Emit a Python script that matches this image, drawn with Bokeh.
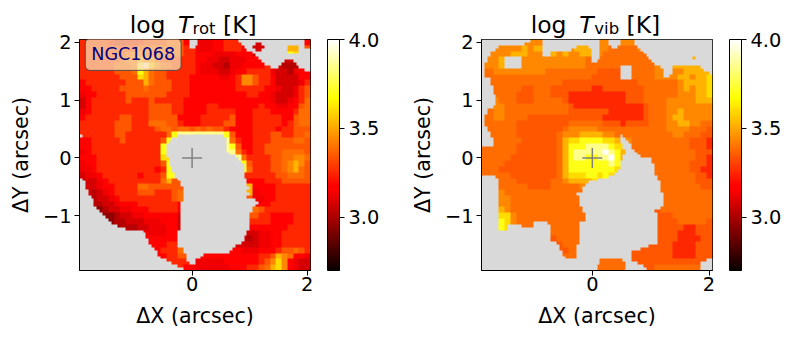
from bokeh.plotting import figure
from bokeh.layouts import row, column
from bokeh.models import LinearColorMapper, ColorBar, FixedTicker, Label, Range1d
from bokeh.core.properties import value
from bokeh.embed import file_html
from bokeh.resources import INLINE
import numpy as np

# value levels for the cell codes, log T [K]
codes = "0123456789abcde"
levels = [2.85, 2.95, 3.02, 3.08, 3.13, 3.18, 3.25, 3.34, 3.39, 3.44, 3.52, 3.60, 3.70, 3.85, 4.0]

t_rot_rows = [
"6666653344" + "566667775." + ".445566..." + ".........5",
"6666666666" + "777777776." + "4445566..." + "33...8aa87",
"6666666678" + "8777777766" + "5554444555" + "......cb..",
"6666666788" + "a997666666" + "5544334445" + "5.....33..",
"6666667778" + "deb9776666" + "5443324455" + "556.3222..",
"6666667778" + "ca87766666" + "5444334556" + "6664332455",
"6666666777" + "ba87766665" + "5555445699" + "7665333355",
"5666666677" + "7a87776665" + "5555555699" + "7665333346",
"5566666777" + "7877776665" + "5555555666" + "6655433467",
"4556666677" + "7777766665" + "5555555556" + "6554333467",
"3566666676" + "6676666655" + "5555555555" + "5554334568",
"3566666666" + "6677776655" + "5566555555" + "5655445578",
"4566666666" + "6677776655" + "5566666555" + "6665555688",
"5666666776" + "6677777555" + "5666667555" + "6666655788",
"6666667776" + "6688877655" + "5666677555" + "6666656788",
"6666667776" + "6667887887" + "8787765555" + "6666566777",
"6666667766" + "666668cddd" + "dddddc7555" + "6667766778",
"5566666766" + "66667c...." + ".....d8655" + "6667777887",
"5566666666" + "6666c....." + "......c755" + "6677777777",
"4566666666" + "6666c....." + "......d865" + "6677788887",
"5556666666" + "6666b....." + ".......d86" + "6667788998",
"4556666666" + "66667c...." + "........c7" + "6667789a97",
"4456666666" + "66656c...." + ".........8" + "6667789a87",
"3445666666" + "56667c...." + ".........6" + "6666778887",
".334566666" + "66668a7..." + ".........5" + "5566677777",
".334556666" + "88777777.." + ".........a" + "5555666666",
"..23456666" + "77766678.." + ".........a" + "4555666666",
"..23345666" + "66666678.." + ".........7" + "4455666666",
"...2334555" + "66666665.." + ".........." + ".556666666",
"...1233445" + "55666665.." + ".........." + "8766666666",
"....112334" + "45555553.." + ".........." + "7665555666",
".....12233" + "34445553.." + ".........." + "6665555666",
"......1222" + "33444553.." + ".........." + "5555556666",
".........." + ".4444554.." + ".........3" + "3445566666",
".........." + ".5555555.." + "........32" + "3445566666",
".........." + "..5556667." + ".......333" + "3445566666",
".........." + "...56668.." + "......5544" + "4555677876",
".........." + "....5667.." + ".555555555" + "5667a98554",
".........." + "......66.." + "4444455555" + "5679b95433",
".........." + "........55" + "4444445556" + "678ab95433",
]

t_vib_rows = [
"........99" + ".........." + "99..99...." + "..........",
"...9999a9a" + ".......aa." + "99888889.." + "..........",
"..999aaa99" + "..a9a99aa." + ".888888889" + "..........",
".99a...999" + "999999998." + ".888888888" + "......a...",
".99a...999" + "9999999988" + "8888..8888" + "9...aaaaa.",
".899999999" + "9888888888" + "7777..8888" + "99..9aaaa.",
".888888888" + "8888888887" + "7777..8888" + "9..9aa9aab",
"..88888888" + "8888777777" + "7777777888" + "88889aaaab",
"..88888778" + "8877777776" + "6777777788" + "88889a9aab",
"..88887778" + "8877766666" + "6666677788" + "8888999aab",
"..98887778" + "8888766666" + "6666677788" + "8899999aaa",
"..99888888" + "8888876666" + "6666666678" + "8899999999",
".899888888" + "8888877777" + "7766666678" + "8899a99999",
"8899888877" + "7777777777" + "7666666678" + "889aa99999",
"8888887777" + "7777788888" + "8777677778" + "8899aa9988",
".888887777" + "7777899999" + "8888888888" + "8899998887",
"..88887777" + "7778999aaa" + "a998888888" + "8889988877",
"..88888777" + "7778abbccc" + "cbba.98888" + "8888887776",
"..88887777" + "7778acccdd" + "ddcb.98888" + "8888887776",
"8888887777" + "7778acdddd" + "dedca.8888" + "8888888777",
"8888877777" + "7778acddcc" + "ddeca...88" + "8888888776",
"8888777777" + "7778accccc" + "ccdcb....." + "8888887776",
"8887777777" + "7778accccc" + "cccb......" + "8888887766",
"...8877777" + "7778abbbcc" + "bcb......." + "8888888776",
"...8887777" + "77889aaaab" + "a........." + ".888888777",
"...8888877" + "77888889.." + ".........." + ".888888877",
"...9888888" + "88888888.." + ".........." + ".888888888",
"...9988888" + "88888888.." + ".........." + ".888888888",
"...9988888" + "88888888.." + ".........." + ".888888888",
"...a988888" + "88888888.." + ".........." + "7888888888",
"...bb98888" + "88888888.." + ".........." + "7778888888",
"...cb98888" + "88888888.." + ".........." + "7777888887",
"...c......" + "..888888.." + ".........." + "7777766777",
".........." + "..888888.." + ".........." + "7777666777",
".........." + "..788888.." + ".........." + "7777666677",
".........." + "...78888.." + ".........7" + "7776666777",
".........." + "....7888.." + "......7777" + "7776666777",
".........." + "....8888.." + "......7777" + "7776666777",
".........." + ".........." + ".8888.7777" + "77777777..",
".........." + ".........." + ".88888...." + "88888888..",
]

# blanked columns of each of the 80 fine rows, top row first
blank_rot = [
"38-41,55-78", "38-41,56-61,63-78", "38-40,57-60,64-72,76-78", "58-61,63-72,76-80", "60-72,76-80",
"61-80", "62-80", "63-71,74-80", "64-70,75-80", "66-69,76-80", "78-80", "",
"", "", "", "", "", "", "", "", "", "", "", "", "", "", "", "", "", "", "", "", "",
"0-1,34-50", "32-51", "31-51", "30-51", "30-51", "30-51", "30-52", "30-54", "31-55", "31-56", "31-57",
"32-57", "32-57", "33-57", "33-57", "0-1,34-58", "0-2,35-58", "0-2,35-58", "0-2,36-59", "0-3,36-58",
"0-3,36-59", "0-4,36-58", "0-5,36-61", "0-5,35-62", "0-5,35-61", "0-6,35-60", "0-7,35-60", "0-8,35-59",
"0-9,35-59", "0-10,35-59", "0-11,35-59", "0-13,35-59", "0-16,35-59", "0-22,34-58", "0-23,34-58",
"0-23,34-57", "0-24,34-57", "0-24,34-56", "0-25,34-54", "0-26,36-53", "0-27,36-52", "0-27,37-43",
"0-28,37-42", "0-30,37-40", "0-32,38-40", "0-34", "0-36",
]

blank_vib = [
"0-17,21-41,44-48,53-80", "0-15,21-41,44-48,53-80", "0-6,21-33,37-41,45-47,54-80", "0-5,21-31,38-41,55-80",
"0-3,21-24,38-41,56-80", "0-3,21-24,38-41,57-80", "0-2,8-14,38-41,58-73,74-80", "0-2,8-14,38-40,59-80",
"0-1,8-14,60-80", "0-1,8-14,48-52,62-66,76-80", "0-1,48-52,63-66,77-80", "0-1,48-52,63-66,79-80",
"0-1,48-52,63-65", "0-3,48-52", "0-3", "0-3", "0-4", "0-4", "0-4", "0-5", "0-5", "0-5", "0-5", "0-4",
"0-2", "0-2", "0-1", "0-1", "0-1", "0-1", "0-2", "0-2", "0-3", "0-3,48-49", "0-4,48-50", "0-4,48-51",
"0-4,49-52", "49-52", "50-53", "50-54", "49-55", "49-59", "48-59", "48-60", "48-60", "47-60", "46-60",
"0-5,44-61", "0-6,40-61", "0-6,37-62", "0-6,36-62", "0-6,35-62", "0-6,35-62", "0-6,33-63", "0-6,34-63",
"0-6,34-63", "0-6,34-63", "0-6,34-63", "0-6,35-62", "0-6,35-60", "0-6,36-61", "0-6,36-61", "0-6,36-61",
"0-6,18-23,34-61", "0-6,9-14,18-24,34-61", "0-6,9-24,34-61", "0-24,34-61", "0-24,34-61", "0-24,34-61",
"0-24,34-61", "0-26,34-61", "0-27,33-58", "0-27,33-55", "0-28,33-52", "0-28,33-52", "0-29,33-52",
"0-41,49-52,78-80", "0-41,50-54,76-80", "0-40,50-56,76-80", "0-40,50-57,76-80",
]

x_ticks = [0, 2]
y_ticks = [-1, 0, 1, 2]
cb_ticks = [3.0, 3.5, 4.0]
vmin, vmax = 2.7, 4.0
GRAY = "#d9d9d9"

rot_title = [("log", 129.2, 23.5, "normal", 24), ("T", 177.5, 23.5, "italic", 24),
             ("rot", 192, 16.5, "normal", 27.5), ("[K]", 222.5, 23.5, "normal", 24)]
vib_title = [("log", 128.2, 23.5, "normal", 24), ("T", 176.8, 23.5, "italic", 24),
             ("vib", 191.8, 16.5, "normal", 27.5), ("[K]", 224, 23.5, "normal", 24)]


def hot_palette(n=256):
    out = []
    for i in range(n):
        f = i / (n - 1)
        r = min(1, 0.0416 + f / 0.365079)
        g = min(1, max(0, (f - 0.365079) / 0.381))
        b = min(1, max(0, (f - 0.746032) / 0.253968))
        out.append("#%02x%02x%02x" % (int(r * 255), int(g * 255), int(b * 255)))
    return out


def decode(rows, blanks):
    lut = dict(zip(codes, levels))
    coarse = np.array([[lut.get(ch, np.nan) for ch in (r + "." * 40)[:40]] for r in rows], dtype=float)
    have = np.argwhere(~np.isnan(coarse))
    for i, j in np.argwhere(np.isnan(coarse)):
        k = np.argmin(((have - (i, j)) ** 2).sum(axis=1))
        coarse[i, j] = coarse[tuple(have[k])]
    fine = np.repeat(np.repeat(coarse, 2, axis=0), 2, axis=1)
    for j, spec in enumerate(blanks[:80]):
        for span in filter(None, spec.split(",")):
            a, b = span.split("-")
            fine[j, int(a):int(b)] = np.nan
    return fine[::-1]


def title_fig(parts, right):
    # the frame lines up with the panel below it, so its x range runs in page pixels over that frame
    t = figure(frame_width=231, frame_height=38, x_range=Range1d(79, 310), y_range=Range1d(38, 0),
               x_axis_type=None, y_axis_type=None, output_backend="svg", toolbar_location=None,
               min_border_left=79, min_border_right=right, min_border_top=0, min_border_bottom=0,
               outline_line_color=None, border_fill_color="white", background_fill_color="white")
    t.grid.visible = False
    for text, x, size, style, y in parts:
        t.text([x], [y], text=[text], text_font=value("DejaVu Sans"), text_font_size=f"{size}px",
               text_font_style=style, text_color="black", text_align="left", text_baseline="alphabetic")
    return t


def panel(rows, blanks, xr, right):
    # the panel's canvas starts 8px down the page, over the lower part of the title strip
    p = figure(frame_width=231, frame_height=231, x_range=Range1d(*xr), y_range=Range1d(-1.95, 2.05),
               output_backend="svg", toolbar_location=None, min_border_left=79, min_border_top=31,
               min_border_bottom=65, min_border_right=right, background_fill_color=GRAY,
               border_fill_color=None, margin=(-30, 0, 0, 0))
    p.grid.visible = False
    mapper = LinearColorMapper(palette=hot_palette(), low=vmin, high=vmax, nan_color=GRAY)
    p.image(image=[decode(rows, blanks)], x=xr[0], y=-1.95, dw=xr[1] - xr[0], dh=4.0, color_mapper=mapper)
    p.scatter([0], [0], marker="cross", size=20, line_color="#808080", line_width=1.5)
    p.xaxis.ticker = FixedTicker(ticks=x_ticks)
    p.yaxis.ticker = FixedTicker(ticks=y_ticks)
    p.yaxis.major_label_overrides = {-1: "\u22121", 0: "0", 1: "1", 2: "2"}
    p.xaxis.axis_label = "\u0394X (arcsec)"
    p.yaxis.axis_label = "\u0394Y (arcsec)"
    for ax in (p.xaxis, p.yaxis):
        ax.axis_label_text_font = "DejaVu Sans"
        ax.axis_label_text_font_size = "20.6px"
        ax.axis_label_text_font_style = "normal"
        ax.axis_label_text_color = "black"
        ax.major_label_text_font = "DejaVu Sans"
        ax.major_label_text_font_size = "19.4px"
        ax.major_label_text_color = "black"
        ax.major_tick_in = 0
        ax.major_tick_out = 5
        ax.minor_tick_line_color = None
        ax.axis_line_color = "black"
        ax.major_tick_line_color = "black"
    p.xaxis.major_label_standoff = 1
    p.xaxis.axis_label_standoff = 10
    p.yaxis.major_label_standoff = 3
    p.yaxis.axis_label_standoff = 7
    p.yaxis.major_label_orientation = "horizontal"
    p.outline_line_color = "black"
    p.outline_line_width = 1
    p.outline_line_alpha = 1
    cb = ColorBar(color_mapper=mapper, ticker=FixedTicker(ticks=cb_ticks), width=12, height=231,
                  padding=0, margin=0, location=(17, 0), major_tick_in=0, major_tick_out=5,
                  bar_line_color="black", major_tick_line_color="black", major_label_text_font="DejaVu Sans",
                  major_label_text_font_size="19.4px", major_label_text_color="black",
                  label_standoff=4, border_line_color=None, background_fill_color=None,
                  major_label_overrides={3.0: "3.0", 3.5: "3.5", 4.0: "4.0"})
    p.add_layout(cb, "right")
    return p


left = panel(t_rot_rows, blank_rot, (-1.955, 2.056), 92)
right = panel(t_vib_rows, blank_vib, (-1.9, 2.06), 72)

left.add_layout(Label(x=-1.855, y=1.515, text="NGC1068", text_font="DejaVu Sans", text_font_size="17.6px",
                      text_color="navy", text_align="left", text_baseline="bottom",
                      background_fill_color="wheat", background_fill_alpha=0.75,
                      border_line_color="#444444", border_line_alpha=0.9, border_radius=5, padding=6))

page = row(column(title_fig(rot_title, 92), left, spacing=0),
           column(title_fig(vib_title, 72), right, spacing=0), spacing=0)
open("out.html", "w").write(file_html(page, INLINE))
